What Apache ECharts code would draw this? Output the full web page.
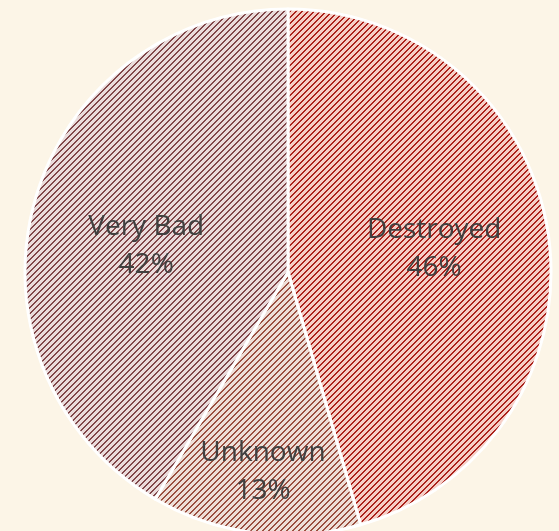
<!DOCTYPE html>
<html>
<head>
<meta charset="utf-8">
<script src="https://cdn.jsdelivr.net/npm/echarts@6/dist/echarts.min.js"></script>
<style>
  html, body { margin: 0; padding: 0; background: #fcf5e7; }
  #chart { width: 559px; height: 531px; }
</style>
</head>
<body>
<div id="chart"></div>
<script>
// data
const categories = ["Destroyed", "Unknown", "Very Bad"];
const values = [46, 13, 42];

// stripe colours per slice: [light, dark]
const stripeColors = [
  ["#f6cec6", "#ab221b"],
  ["#eedfd8", "#9a4f40"],
  ["#eadbdb", "#804649"]
];
// how far out the label sits (1 = middle of the radius) and a small nudge
const labelPush = [1.12, 1.5, 1.1];
const labelNudge = [[-3, -2], [0, 0], [1, 13]];

const CX = 288, CY = 272, R = 263;
const TILE = 6;

// small tile with "/" stripes
const makeStripes = (light, dark) => {
  const c = document.createElement("canvas");
  c.width = TILE;
  c.height = TILE;
  const ctx = c.getContext("2d");
  ctx.fillStyle = light;
  ctx.fillRect(0, 0, TILE, TILE);
  ctx.fillStyle = dark;
  for (let x = 0; x < TILE; x++) {
    for (let y = 0; y < TILE; y++) {
      const k = (x + y) % TILE;
      if (k < 2) ctx.fillRect(x, y, 1, 1);
    }
  }
  return c;
};

const myChart = echarts.init(document.getElementById("chart"));

const option = {
  backgroundColor: "#fcf5e7",
  animation: false,
  series: [
    {
      type: "pie",
      center: [CX, CY],
      radius: R,
      startAngle: 90,
      clockwise: true,
      avoidLabelOverlap: false,
      itemStyle: {
        borderColor: "#ffffff",
        borderWidth: 3
      },
      label: {
        show: true,
        position: "inside",
        formatter: p => p.name + "\n" + p.value + "%",
        fontFamily: "Open Sans",
        fontSize: 28,
        lineHeight: 38,
        color: "#404040"
      },
      labelLine: { show: false },
      emphasis: { disabled: true },
      labelLayout: params => {
        const i = params.dataIndex;
        const r = params.labelRect;
        const mx = r.x + r.width / 2;
        const my = r.y + r.height / 2;
        const f = labelPush[i] - 1;
        return {
          dx: (mx - CX) * f + labelNudge[i][0],
          dy: (my - CY) * f + labelNudge[i][1]
        };
      },
      data: categories.map((name, i) => ({
        name: name,
        value: values[i],
        itemStyle: {
          color: {
            image: makeStripes(stripeColors[i][0], stripeColors[i][1]),
            repeat: "repeat"
          }
        }
      }))
    }
  ]
};

myChart.setOption(option);
</script>
</body>
</html>
